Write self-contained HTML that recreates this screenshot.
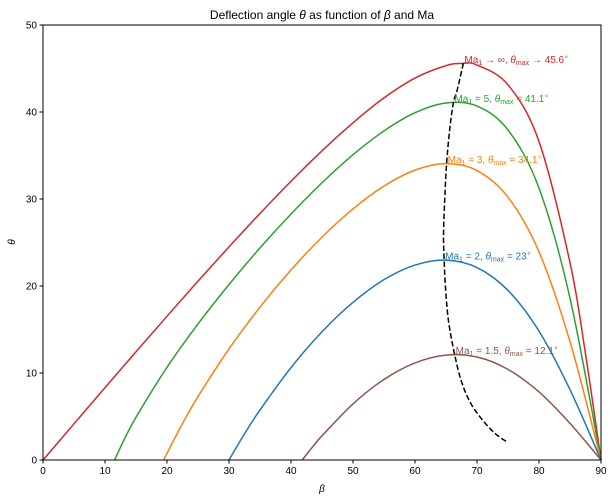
<!DOCTYPE html>
<html><head><meta charset="utf-8">
<style>
html,body{margin:0;padding:0;background:#fff;}
svg{display:block;font-family:"Liberation Sans","DejaVu Sans",sans-serif;}
</style></head>
<body>
<svg id="chart" width="614" height="502" viewBox="0 0 614 502">
<rect x="0" y="0" width="614" height="502" fill="#fff"/>
<text x="322" y="19" text-anchor="middle" font-size="12">Deflection angle <tspan font-style="italic">θ</tspan> as function of <tspan font-style="italic">β</tspan> and Ma</text>
<g id="axes"></g>
<g id="series"></g>
<rect x="43" y="25" width="558" height="435" fill="none" stroke="#000" stroke-width="1"/>
<text x="322" y="492" text-anchor="middle" font-size="10" font-style="italic">β</text>
<text x="15" y="242" text-anchor="middle" font-size="10" font-style="italic" transform="rotate(-90 15 242)">θ</text>
</svg>
<script>
// ---- data ----
const xTicks = [0,10,20,30,40,50,60,70,80,90];
const yTicks = [0,10,20,30,40,50];

const betaInf  = [0,5,10,15,20,25,30,35,40,45,50,55,60,65,67.5,70,75,80,85,87.5,90];
const thetaInf = [0,4.16,8.32,12.44,16.53,20.56,24.50,28.34,32.04,35.54,38.76,41.62,43.90,45.33,45.58,45.40,43.12,36.61,22.69,12.19,0];

const beta5  = [11.54,13,15,20,25,30,35,40,45,50,55,60,65,70,75,80,85,90];
const theta5 = [0,2.21,4.91,10.66,15.64,20.17,24.38,28.28,31.87,35.09,37.83,39.92,41.04,40.68,37.93,31.25,18.60,0];

const beta3  = [19.47,20,22.5,25,30,35,40,45,50,55,60,65,70,75,80,85,90];
const theta3 = [0,0.77,4.19,7.29,12.77,17.58,21.85,25.62,28.86,31.49,33.32,34.07,33.27,30.21,23.92,13.60,0];

const beta2  = [30,32.5,35,40,45,50,55,60,65,70,75,80,85,90];
const theta2 = [0,3.0,5.75,10.62,14.74,18.12,20.73,22.41,22.97,22.12,19.49,14.81,8.08,0];

const beta15  = [41.81,43.5,45,50,55,60,65,70,75,80,85,90];
const theta15 = [0,1.52,2.78,6.45,9.26,11.16,12.06,11.84,10.42,7.82,4.21,0];

const betaMax  = [67.8,66.8,66.2,65.6,65.1,64.8,64.6,64.7,64.9,65.4,66.4,67.5,69,71,73,75];
const thetaMax = [45.6,42.5,41.1,38,34.1,30,26,23,20,16,12.1,9,6.5,4.5,3,2];

const labelMa   = ["∞","5","3","2","1.5"];
const labelTmax = [45.6,41.1,34.1,23,12.1];
const labelBeta = [67.8,66.2,65.1,64.7,66.4];

// ---- axis functions ----
const X0=43, X1=601, Y0=460, Y1=25;
const sx = v => X0 + (v/90)*(X1-X0);
const sy = v => Y0 - (v/50)*(Y0-Y1);
const NS="http://www.w3.org/2000/svg";
const axes=document.getElementById('axes');
const series=document.getElementById('series');

function mk(tag, attrs, parent){
  const e=document.createElementNS(NS,tag);
  for(const k in attrs) e.setAttribute(k,attrs[k]);
  parent.appendChild(e); return e;
}

xTicks.forEach(t=>{
  const l=mk('line',{x1:sx(t),x2:sx(t),y1:Y0,y2:Y0+3.5,stroke:'#000'},axes);
  
  
  const tx=mk('text',{x:sx(t),y:Y0+14,'text-anchor':'middle','font-size':10},axes);
  tx.textContent=t;
  
  
});
yTicks.forEach(t=>{
  const l=mk('line',{x1:X0-3.5,x2:X0,y1:sy(t),y2:sy(t),stroke:'#000'},axes);
  
  
  const tx=mk('text',{x:X0-6,y:sy(t)+3.5,'text-anchor':'end','font-size':10},axes);
  tx.textContent=t;
  
  
});

function smoothPath(xs,ys){
  const p=xs.map((x,i)=>[sx(x),sy(ys[i])]);
  let d=`M${p[0][0]},${p[0][1]}`;
  for(let i=0;i<p.length-1;i++){
    const p0=p[i-1]||p[i], p1=p[i], p2=p[i+1], p3=p[i+2]||p[i+1];
    const c1=[p1[0]+(p2[0]-p0[0])/6, p1[1]+(p2[1]-p0[1])/6];
    const c2=[p2[0]-(p3[0]-p1[0])/6, p2[1]-(p3[1]-p1[1])/6];
    d+=` C${c1[0]},${c1[1]} ${c2[0]},${c2[1]} ${p2[0]},${p2[1]}`;
  }
  return d;
}

const curves=[
  [betaInf,thetaInf,'#d62728','curve-ma-inf'],
  [beta5,theta5,'#2ca02c','curve-ma-5'],
  [beta3,theta3,'#ff7f0e','curve-ma-3'],
  [beta2,theta2,'#1f77b4','curve-ma-2'],
  [beta15,theta15,'#8c564b','curve-ma-1-5']
];
curves.forEach((c,i)=>{
  const p=mk('path',{d:smoothPath(c[0],c[1]),fill:'none',stroke:c[2],'stroke-width':1.5},series);
  
  
});

const dm=mk('path',{d:smoothPath(betaMax,thetaMax),fill:'none',stroke:'#000','stroke-width':1.5,'stroke-dasharray':'5.5,2.5'},series);



labelMa.forEach((m,i)=>{
  const col=curves[i][2];
  const t=mk('text',{x:sx(labelBeta[i])+1,y:sy(labelTmax[i])-0.5,'font-size':10,fill:col},series);
  const arrow = m==="∞";
  t.innerHTML=`Ma<tspan font-size="7" dy="2">1</tspan><tspan dy="-2"> ${arrow?'→':'='} ${m}, </tspan><tspan font-style="italic">θ</tspan><tspan font-size="7" dy="2">max</tspan><tspan dy="-2"> ${arrow?'→':'='} ${labelTmax[i]}</tspan><tspan font-size="7" dy="-4">∘</tspan>`;
  
  
});
</script>
</body></html>
